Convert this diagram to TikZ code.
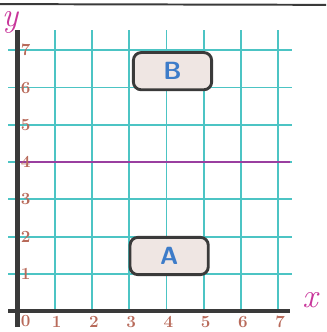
\documentclass[tikz,border=0pt]{standalone}
\usepackage{xcolor}
\usetikzlibrary{positioning}

\definecolor{gridteal}{HTML}{4CC4C4}
\definecolor{axisgrey}{HTML}{3A3A3A}
\definecolor{linepurple}{HTML}{9A3FA0}
\definecolor{boxfill}{HTML}{EFE6E3}
\definecolor{letterblue}{HTML}{3D7CC9}
\definecolor{numbrown}{HTML}{B86A5A}
\definecolor{labelpink}{HTML}{C8359A}

\begin{document}
\begin{tikzpicture}[
        gridline/.style={gridteal, line width=1.4pt},
        axisline/.style={axisgrey, line width=3.6pt},
        region/.style={rectangle, rounded corners=6pt, draw=axisgrey, line width=2.2pt, fill=boxfill, minimum width=2.1cm, minimum height=1cm, font=\sffamily\bfseries\fontsize{19}{20}\selectfont, text=letterblue},
        ticknum/.style={font=\bfseries\fontsize{13}{14}\selectfont, text=numbrown, inner sep=0pt},
        axislabel/.style={font=\itshape\fontsize{26}{26}\selectfont, text=labelpink, inner sep=0pt}
    ]
        \useasboundingbox (-0.47,-0.56) rectangle (8.28,8.35);

        % Border at the top
        \draw [axisgrey, line width=1.5pt] (-0.47,8.24) -- (8.28,8.22);

        % Grid
        \foreach \k in {1,...,7} {
            \draw [gridline] (\k,0) -- (\k,7.54);
            \draw [gridline] (-0.25,\k) -- (7.37,\k);
        }

        % Line y = 4
        \draw [linepurple, line width=1.8pt] (0,4) -- (7.3,4);

        % Axes
        \draw [axisline] (0,-0.43) -- (0,7.54);
        \draw [axisline] (-0.25,0) -- (7.32,0);

        % Numbers
        \foreach \k in {1,...,7} {
            \node [ticknum] at (\k+0.05,-0.28) {\k};
            \node [ticknum] at (0.22,\k) {\k};
        }
        \node [ticknum] at (0.22,-0.26) {0};

        % Axis names
        \node (ylab) [axislabel] at (-0.2,7.75) {y};
        \node (xlab) [axislabel] at (7.85,0.3) {x};

        % Regions
        \node (regB) [region] at (4.16,6.44) {B};
        \node (regA) [region] at (4.07,1.48) {A};
    \end{tikzpicture}
\end{document}
